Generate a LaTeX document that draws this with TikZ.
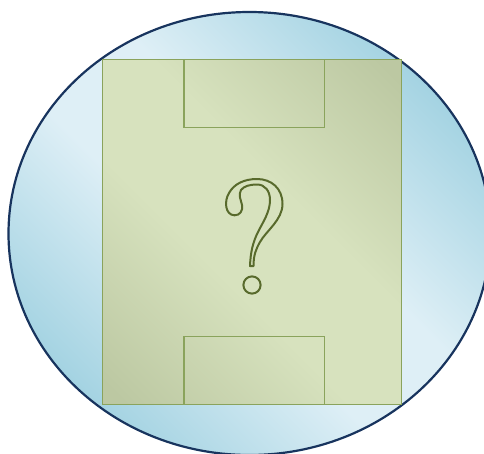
\documentclass[tikz,border=0pt]{standalone}
\usetikzlibrary{shapes.geometric}
\definecolor{elldark}{RGB}{164,211,226}
\definecolor{elllight}{RGB}{222,239,246}
\definecolor{ellline}{RGB}{24,52,94}
\definecolor{recdark}{RGB}{188,200,162}
\definecolor{reclight}{RGB}{215,226,190}
\definecolor{recline}{RGB}{138,163,92}
\definecolor{qline}{RGB}{88,106,44}
\pgfdeclareverticalshading{ellsh}{100bp}{color(0bp)=(elldark); color(25bp)=(elldark); color(44bp)=(elllight); color(56bp)=(elllight); color(75bp)=(elldark); color(100bp)=(elldark)}
\pgfdeclareverticalshading{recsh}{100bp}{color(0bp)=(recdark); color(17bp)=(recdark); color(42bp)=(reclight); color(58bp)=(reclight); color(83bp)=(recdark); color(100bp)=(recdark)}
\tikzset{
  ellshape/.style={draw=ellline, line width=2.2pt, shading=ellsh, shading angle=-45},
  recshape/.style={draw=recline, line width=1.1pt, shading=recsh, shading angle=-45},
  subbox/.style={draw=recline, line width=1.1pt},
  qmark/.style={draw=qline, line width=2pt, line join=round}
}
\begin{document}
\begin{tikzpicture}[x=1pt,y=-1pt]
\useasboundingbox (0,0) rectangle (484,453);
\clip (0,0) rectangle (484,453);
\path[ellshape] (249.5,233.5) ellipse [x radius=241, y radius=221.5];
\path[recshape] (102.3,59.7) rectangle (401.3,404.7);
\path[subbox] (184,59.7) rectangle (324.3,127.3);
\path[subbox] (184,336.7) rectangle (324.3,404.7);
\path[qmark] (250,266) -- (253.5,266)
  .. controls (253.5,255) and (256,249) .. (260,242)
  .. controls (266,231) and (282.5,220) .. (282.5,204)
  .. controls (282.5,188) and (271,179) .. (257,179)
  .. controls (244,179) and (234,184) .. (229,193)
  .. controls (224,201) and (225,215) .. (234.5,215.3)
  .. controls (240,215.3) and (243,211) .. (242,205)
  .. controls (241,200) and (238,195) .. (241,190)
  .. controls (244,186) and (250,184.5) .. (257,184.5)
  .. controls (265,184.5) and (270,191) .. (270,200)
  .. controls (270,212) and (263,222) .. (258,232)
  .. controls (253,242) and (250.5,252) .. (250,266) -- cycle;
\path[qmark] (252,285) circle [radius=8.6];
\end{tikzpicture}
\end{document}
